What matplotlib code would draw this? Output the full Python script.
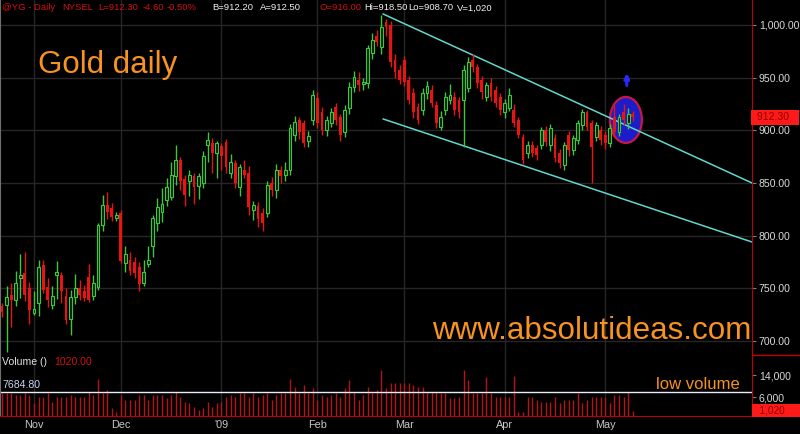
import numpy as np
import matplotlib.pyplot as plt
from matplotlib.patches import Ellipse

plt.rcParams['font.family'] = ['Liberation Sans', 'DejaVu Sans']

# daily OHLC, late Oct 2008 - early May 2009
opens = [733, 734, 744, 739, 760, 765, 750, 727, 736, 772, 751, 734, 763, 763, 743, 721, 742, 750, 748, 761,
         743, 751, 810, 829, 826, 817, 822, 774, 777, 775, 770, 755, 773, 790, 812, 823, 834, 837, 857, 872,
         854, 852, 857, 847, 850, 886, 888, 879, 885, 889, 860, 869, 846, 862, 860, 824, 828, 822, 822, 850,
         843, 862, 858, 862, 896, 910, 907, 890, 910, 931, 917, 900, 907, 922, 913, 898, 921, 941, 948, 944,
         945, 973, 990, 979, 1003, 1000, 967, 957, 967, 948, 935, 922, 919, 935, 938, 924, 903, 919, 929, 932,
         929, 929, 940, 967, 960, 948, 932, 945, 938, 932, 917, 921, 919, 910, 894, 879, 886, 883, 886, 900,
         886, 893, 879, 867, 896, 881, 891, 905, 917, 907, 894, 900, 896, 888, 913, 898, 917, 907, 916]
highs = [736, 752, 755, 767, 783, 785, 756, 748, 777, 777, 760, 752, 776, 766, 750, 749, 764, 758, 753, 773,
         763, 812, 839, 842, 831, 823, 824, 790, 785, 780, 775, 777, 790, 820, 836, 845, 855, 870, 886, 875,
         858, 862, 860, 860, 880, 898, 893, 890, 888, 892, 878, 872, 868, 872, 866, 833, 832, 826, 852, 856,
         868, 866, 870, 906, 914, 913, 910, 899, 938, 936, 922, 914, 921, 926, 916, 924, 946, 956, 955, 950,
         981, 992, 995, 1009, 1006, 1004, 972, 962, 971, 952, 940, 926, 940, 947, 943, 928, 918, 936, 944, 936,
         932, 962, 970, 972, 963, 952, 946, 950, 942, 935, 930, 940, 925, 913, 897, 890, 890, 886, 903, 904,
         906, 897, 882, 889, 899, 896, 910, 920, 919, 910, 908, 904, 899, 906, 924, 916, 925, 921, 918.5]
lows = [723, 690, 713, 733, 741, 738, 716, 725, 724, 746, 732, 731, 740, 736, 716, 706, 735, 739, 738, 737,
        739, 749, 805, 816, 814, 814, 774, 766, 763, 760, 748, 752, 770, 780, 805, 813, 828, 834, 848, 843,
        828, 838, 830, 835, 845, 870, 860, 855, 862, 860, 855, 845, 838, 855, 820, 815, 808, 805, 818, 838,
        836, 850, 852, 858, 890, 892, 884, 884, 905, 902, 896, 895, 903, 905, 890, 894, 916, 936, 937, 938,
        940, 968, 980, 972, 990, 960, 950, 944, 942, 925, 912, 906, 915, 930, 922, 902, 900, 915, 925, 915,
        912, 884, 936, 955, 940, 930, 928, 928, 922, 915, 912, 918, 903, 893, 868, 874, 875, 872, 882, 885,
        880, 870, 864, 862, 876, 877, 887, 900, 900, 850, 890, 886, 882, 884, 894, 895, 905, 901, 908.7]
closes = [728, 742, 739, 755, 763, 744, 730, 731, 770, 749, 739, 743, 766, 748, 720, 742, 750, 744, 741, 739,
          755, 810, 829, 823, 818, 820, 776, 783, 767, 765, 754, 766, 777, 817, 827, 830, 846, 858, 872, 852,
          839, 858, 846, 857, 876, 891, 879, 888, 876, 865, 870, 850, 865, 858, 827, 829, 816, 812, 848, 843,
          862, 857, 862, 902, 908, 898, 888, 895, 934, 907, 900, 910, 917, 910, 896, 919, 941, 951, 943, 946,
          978, 986, 984, 998, 998, 965, 955, 948, 946, 929, 917, 910, 935, 942, 926, 907, 913, 932, 934, 919,
          917, 957, 965, 960, 945, 936, 943, 932, 926, 919, 926, 934, 907, 896, 872, 886, 879, 877, 900, 889,
          902, 874, 869, 886, 881, 893, 907, 917, 903, 884, 905, 891, 888, 902, 898, 913, 910, 916, 912.3]
volumes = [7330, 7330, 7330, 6730, 6730, 7330, 6730, 3700, 6120, 6120, 7330, 4300, 6120, 6120, 6120, 6730,
           6120, 6120, 6120, 7940, 6730, 12420, 7330, 8550, 1880, 670, 6730, 4910, 4910, 4910, 6730, 6730,
           4910, 6730, 6730, 6730, 5520, 6730, 7940, 6120, 4300, 3700, 2490, 1270, 1880, 4300, 2490, 3700,
           4300, 6120, 6730, 6120, 7330, 7330, 6120, 7330, 6120, 6730, 7330, 4910, 6730, 7330, 7330, 12420,
           9760, 7330, 10370, 7330, 9150, 4910, 6730, 6120, 6730, 7330, 6120, 9150, 12180, 7940, 4910, 6730,
           9760, 7330, 8550, 16000, 9150, 10970, 10970,
           10970, 10970, 10970, 10370, 9760, 9760, 7940, 7940, 7940, 7330, 7330, 5520, 5520, 6120, 15700,
           12180, 7330, 7330, 7330, 13390, 7330, 6120, 6120, 6120, 6120, 13630, 670, 400, 6120, 6120, 4910,
           4300, 4300, 4300, 6120, 3700, 4910, 4910, 4910, 7330, 3700, 4910, 6120, 6120, 6120, 6120, 3700,
           6730, 6730, 6120, 7940, 1020]
vol_avg = 7684.80
last_price = 912.30
last_volume = 1020

month_pos = [7, 26, 48, 69, 88, 110, 132]
month_labels = ['Nov', 'Dec', "'09", 'Feb', 'Mar', 'Apr', 'May']
price_ticks = [700, 750, 800, 850, 900, 950, 1000]
vol_ticks = [6000, 14000]

# hand drawn channel
channel_x = [83.4, 164.1]
channel_upper = [1010.4, 850.1]
channel_lower = [910.8, 794.1]

GREEN = '#3cc83c'
RED = '#e81414'
ORANGE = '#f7931e'
GRID = '#262626'
LABEL = '#d8d8d8'

W, H = 800, 434
fig = plt.figure(figsize=(8, 4.34), dpi=100, facecolor='black')


def px_axes(x0, y0, x1, y1):
    return fig.add_axes([x0 / W, 1 - y1 / H, (x1 - x0) / W, (y1 - y0) / H], facecolor='black')


ax = px_axes(0, 0, 752, 355)
axv = px_axes(0, 355, 752, 416)

o = np.array(opens, float)
h = np.array(highs, float)
l = np.array(lows, float)
c = np.array(closes, float)
x = np.arange(len(c))
up = c >= o
dn = ~up

xlim = (-0.45, 164.1)
for a in (ax, axv):
    a.set_xlim(xlim)
    for m in month_pos:
        a.axvline(m, color=GRID, lw=1, zorder=0)

# price panel
ax.set_ylim(686.9, 1023.7)
for p in price_ticks:
    ax.axhline(p, color=GRID, lw=1, zorder=0)

ax.add_patch(Ellipse((136.5, 909.9), 7.0, 43.6, facecolor='#1c1cc8', edgecolor='#c8184a', lw=1.6, zorder=1))
ax.plot(channel_x, channel_upper, color='#60d8cc', lw=1.1, zorder=2)
ax.plot(channel_x, channel_lower, color='#60d8cc', lw=1.1, zorder=2)

ax.vlines(x[up], l[up], h[up], color=GREEN, lw=1, zorder=3)
ax.vlines(x[dn], l[dn], h[dn], color=RED, lw=1, zorder=3)
ax.bar(x[up], c[up] - o[up], bottom=o[up], width=0.62, facecolor='#0a200a', edgecolor=GREEN, lw=0.8, zorder=4)
ax.bar(x[dn], o[dn] - c[dn], bottom=c[dn], width=0.62, color=RED, lw=0, zorder=4)

ax.annotate('', xy=(136.7, 957), xytext=(136.7, 940),
            arrowprops=dict(arrowstyle='-|>', color='#2828ff', lw=2.2, mutation_scale=7))

ax.yaxis.tick_right()
ax.set_yticks(price_ticks)
ax.set_yticklabels(['{:,.2f}'.format(p) for p in price_ticks])
ax.tick_params(axis='y', colors='#808080', labelcolor=LABEL, labelsize=7.6, length=3, pad=2)
ax.set_xticks([])
ax.spines['right'].set_color('#c00000')
ax.spines['left'].set_color('#707070')
ax.spines['top'].set_visible(False)
ax.spines['bottom'].set_visible(False)

ax.text(1.002, last_price, ' 912.30   ', transform=ax.get_yaxis_transform(), ha='left', va='center',
        color='#900000', fontsize=7.6, bbox=dict(boxstyle='square,pad=0.2', fc='#ff1a1a', ec='none'),
        clip_on=False)

# volume panel
axv.set_ylim(-900, 21300)
axv.vlines(x, axv.get_ylim()[0], volumes, color='#b8101c', lw=1)
axv.axhline(vol_avg, color='#e8ecf8', lw=1)
axv.text(0.003, vol_avg + 900, '{:.2f}'.format(vol_avg), transform=axv.get_yaxis_transform(),
         color='#c8d4f0', fontsize=7.6, va='bottom')
axv.text(0.003, 0.88, 'Volume ()', transform=axv.transAxes, color='#e0e0e0', fontsize=7.6, va='center')
axv.text(0.072, 0.88, '{:.2f}'.format(last_volume), transform=axv.transAxes, color='#d01010',
         fontsize=7.6, va='center')
axv.text(143.1, 10700, 'low volume', color=ORANGE, fontsize=12, va='center')

axv.yaxis.tick_right()
axv.set_yticks(vol_ticks)
axv.set_yticklabels(['{:,}'.format(v) for v in vol_ticks])
axv.tick_params(axis='y', colors='#808080', labelcolor=LABEL, labelsize=7.6, length=3, pad=2)
axv.set_xticks(month_pos)
axv.set_xticklabels(month_labels)
axv.tick_params(axis='x', length=0, labelcolor='#c8c8c8', labelsize=7.8, pad=3)
axv.spines['right'].set_color('#c00000')
axv.spines['bottom'].set_color('#c00000')
axv.spines['left'].set_color('#707070')
axv.spines['top'].set_visible(False)
axv.text(1.002, last_volume, '  1,020     ', transform=axv.get_yaxis_transform(), ha='left', va='center',
         color='#900000', fontsize=7.2, bbox=dict(boxstyle='square,pad=0.15', fc='#ff1a1a', ec='none'),
         clip_on=False)
fig.add_artist(plt.Line2D([752 / W, 1], [1 - 355 / H, 1 - 355 / H], color='#c00000', lw=1))

# header line, one piece per field
header = [(2, '@YG - Daily', '#d01010'), (62, 'NYSEL', '#d01010'), (98, 'L=912.30', '#d01010'),
          (143, '-4.60', '#d01010'), (167, '-0.50%', '#d01010'),
          (212, 'B=912.20', '#f0f0f0'), (260, 'A=912.50', '#f0f0f0'),
          (320, 'O=916.00', '#d01010'), (364, 'Hi=918.50', '#f0f0f0'),
          (408, 'Lo=908.70', '#f0f0f0'), (457, 'V=1,020', '#f0f0f0')]
for xp, txt, col in header:
    fig.text(xp / W, 1 - 8 / H, txt, color=col, fontsize=6.8, va='center')

fig.text(38 / W, 1 - 65 / H, 'Gold daily', color=ORANGE, fontsize=22.5, va='center')
fig.text(432 / W, 1 - 331 / H, 'www.absolutideas.com', color=ORANGE, fontsize=22.6, va='center')

fig.savefig('out.png', dpi=100, facecolor='black')
